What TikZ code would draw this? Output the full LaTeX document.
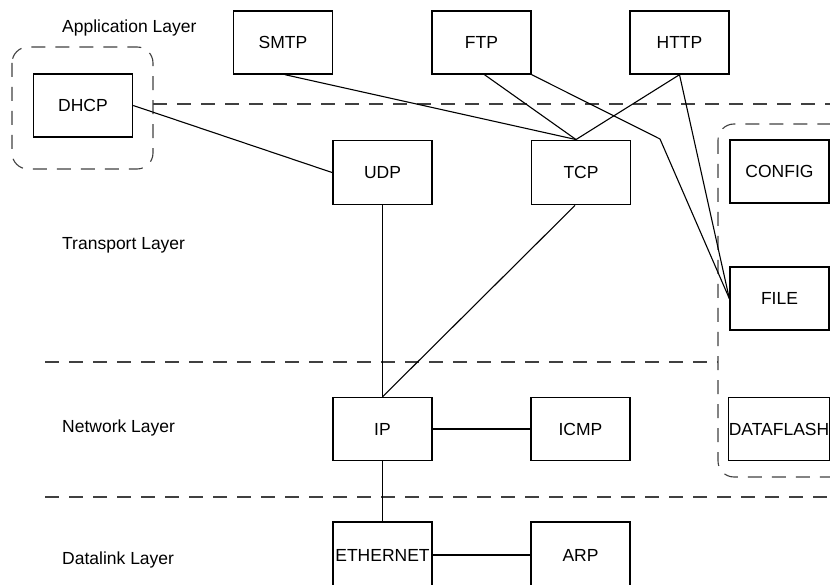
\documentclass[tikz,border=0pt]{standalone}
\usepackage{fontspec}
\setmainfont{Liberation Sans}
\begin{document}
\begin{tikzpicture}[x=1pt,y=-1pt,
  box/.style={draw,rectangle,minimum width=99pt,minimum height=63pt,inner sep=0pt,line width=1.4pt,font=\fontsize{17.5}{20}\selectfont},
  thickbox/.style={box,line width=1.9pt,minimum height=64pt},
  layer/.style={anchor=west,inner sep=0pt,font=\fontsize{17.5}{20}\selectfont},
  wire/.style={line width=1.1pt},
  sep/.style={draw=black!75,line width=1.1pt,dash pattern=on 14pt off 10pt},
  group/.style={draw=black!75,line width=1.1pt,dash pattern=on 14pt off 10pt,rounded corners=16pt}]
\useasboundingbox (0,0) rectangle (830,585);
% groups
\draw[group] (12,47) rectangle (153,169);
\draw[group] (718,124) rectangle (860,477);
% separators
\coordinate (s1a) at (153,104); \coordinate (s1b) at (830,104);
\coordinate (s2a) at (45,362);  \coordinate (s2b) at (718,362);
\coordinate (s3a) at (45,497);  \coordinate (s3b) at (830,497);
\draw[sep] (s1a) -- (s1b);
\draw[sep] (s2a) -- (s2b);
\draw[sep] (s3a) -- (s3b);
% labels
\node[layer] (lapp) at (62,28) {Application Layer};
\node[layer] (ltra) at (62,245) {Transport Layer};
\node[layer] (lnet) at (62,428) {Network Layer};
\node[layer] (ldat) at (62,560) {Datalink Layer};
% boxes
\node[box] (smtp) at (283,42.5) {SMTP};
\node[box] (ftp) at (481.5,42.5) {FTP};
\node[box] (http) at (679.5,42.5) {HTTP};
\node[box] (dhcp) at (83,105.5) {DHCP};
\node[thickbox] (udp) at (382.5,172.5) {UDP};
\node[thickbox] (tcp) at (581,172.5) {TCP};
\node[box] (config) at (779.5,171.5) {CONFIG};
\node[box] (file) at (779.5,298.5) {FILE};
\node[box] (ip) at (382.5,429) {IP};
\node[box] (icmp) at (580.5,429) {ICMP};
\node[box] (dataflash) at (779,429) {DATAFLASH};
\node[box,minimum height=66pt] (eth) at (382.5,555) {ETHERNET};
\node[box,minimum height=66pt] (arp) at (580.5,555) {ARP};
% connectors
\coordinate (bend) at (660,139);
\draw[wire] (dhcp.east) -- (udp.west);
\draw[wire] ([xshift=2pt]smtp.south) -- ([xshift=-5pt]tcp.north);
\draw[wire] ([xshift=3pt]ftp.south) -- ([xshift=-5pt]tcp.north);
\draw[wire] (http.south) -- ([xshift=-5pt]tcp.north);
\draw[wire] (ftp.south east) -- (bend) -- (file.west);
\draw[wire] (http.south) -- (file.west);
\draw[wire] (udp.south) -- (ip.north);
\draw[wire] ([xshift=-6pt]tcp.south) -- (ip.north);
\draw[wire] (ip.east) -- (icmp.west);
\draw[wire] (ip.south) -- (eth.north);
\draw[wire] (eth.east) -- (arp.west);
\end{tikzpicture}
\end{document}
